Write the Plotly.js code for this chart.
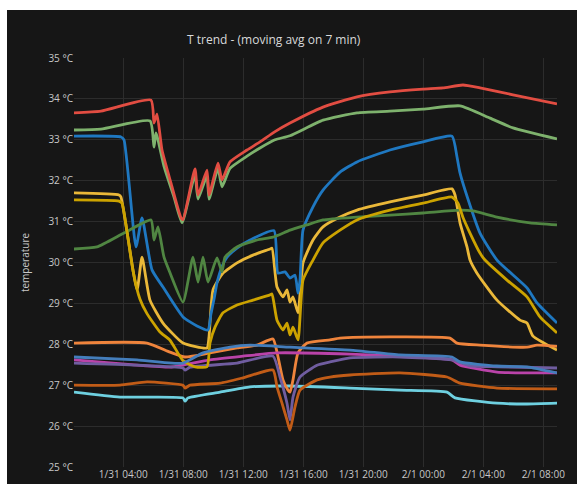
<!DOCTYPE html>
<html>
<head>
<meta charset="utf-8">
<script src="https://cdn.plot.ly/plotly-3.0.1.min.js"></script>
<style>
  html, body { margin: 0; padding: 0; background: #ffffff; width: 577px; height: 484px; overflow: hidden; }
  #chart { position: absolute; left: 7px; top: 10px; width: 570px; height: 474px; }
</style>
</head>
<body>
<div id="chart"></div>
<script>
// Times are "D HH:MM" where D=31 -> Jan 31, D=01 -> Feb 1
const redT = ["31 00:43","31 02:31","31 05:51","31 06:03","31 06:15","31 06:35","31 07:11","31 07:51","31 07:59","31 08:47","31 08:59","31 09:35","31 09:43","31 10:19","31 10:35","31 11:07","31 12:15","31 13:07","31 14:07","31 15:07","31 17:19","31 19:35","31 21:47","31 23:59","01 01:19","01 02:39","01 03:47","01 05:59","01 08:55"];
const redV = [33.66,33.70,33.97,33.41,33.63,32.75,31.94,31.09,31.05,32.29,31.65,32.26,31.65,32.43,32.02,32.46,32.75,32.95,33.20,33.41,33.80,34.05,34.17,34.24,34.27,34.34,34.27,34.10,33.88];

const greenT = ["31 00:43","31 02:31","31 05:47","31 06:03","31 06:11","31 06:43","31 07:23","31 07:55","31 08:47","31 08:59","31 09:35","31 09:43","31 10:19","31 10:35","31 11:07","31 12:15","31 13:07","31 14:07","31 15:07","31 17:19","31 19:35","31 21:47","31 23:59","01 02:27","01 04:27","01 05:59","01 08:55"];
const greenV = [33.24,33.26,33.46,32.82,33.17,32.35,31.60,30.97,32.15,31.55,32.13,31.55,32.30,31.85,32.30,32.60,32.80,33.00,33.10,33.48,33.66,33.70,33.75,33.83,33.53,33.29,33.02];

const blueT = ["31 00:43","31 03:51","31 04:03","31 04:51","31 05:15","31 05:55","31 06:39","31 07:59","31 08:55","31 09:39","31 09:51","31 10:03","31 10:15","31 10:35","31 10:55","31 11:35","31 12:27","31 14:03","31 14:19","31 14:47","31 15:07","31 15:27","31 15:39","31 15:47","31 15:59","31 16:39","31 17:19","31 18:27","31 19:35","31 21:47","31 23:59","01 01:55","01 02:15","01 02:27","01 03:07","01 03:47","01 04:55","01 06:55","01 07:35","01 08:55"];
const blueV = [33.09,33.07,33.00,30.38,31.09,29.82,29.40,28.67,28.45,28.35,28.75,29.10,29.50,29.90,30.13,30.35,30.55,30.78,29.74,29.77,29.62,29.69,29.25,29.57,30.79,31.36,31.77,32.21,32.46,32.75,32.95,33.09,32.58,32.19,31.40,30.72,30.06,29.38,29.01,28.52];

const yellowT = ["31 00:43","31 03:43","31 03:51","31 04:55","31 05:15","31 05:47","31 06:39","31 07:59","31 09:35","31 09:43","31 09:59","31 10:39","31 11:35","31 12:39","31 13:47","31 13:55","31 14:15","31 14:39","31 14:55","31 15:07","31 15:19","31 15:39","31 15:59","31 16:39","31 17:19","31 18:27","31 19:35","31 21:47","31 23:59","01 01:55","01 02:07","01 02:27","01 02:55","01 03:07","01 03:35","01 04:55","01 06:27","01 06:55","01 07:19","01 08:55"];
const yellowV = [31.70,31.65,31.60,29.33,30.13,29.08,28.52,28.03,27.91,28.18,29.33,29.74,29.99,30.18,30.33,30.35,29.40,29.16,29.33,29.03,29.16,28.77,29.99,30.55,30.87,31.11,31.28,31.48,31.65,31.80,31.65,30.97,30.38,30.06,29.74,29.08,28.59,28.52,28.20,27.86];

const goldT = ["31 00:43","31 03:43","31 03:55","31 04:19","31 04:39","31 05:07","31 05:35","31 06:27","31 07:07","31 07:59","31 08:47","31 09:35","31 09:47","31 10:07","31 10:39","31 11:35","31 12:39","31 13:47","31 13:55","31 14:15","31 14:39","31 14:55","31 15:07","31 15:19","31 15:39","31 15:59","31 16:39","31 17:19","31 18:27","31 19:35","31 21:47","31 23:59","01 01:55","01 02:19","01 02:39","01 03:07","01 03:47","01 04:07","01 05:35","01 06:55","01 07:47","01 08:55"];
const goldV = [31.53,31.50,31.45,30.60,29.80,29.10,28.75,28.30,28.10,27.60,27.45,27.45,28.03,28.42,28.77,28.96,29.08,29.21,29.23,28.59,28.35,28.52,28.23,28.42,28.11,29.57,30.06,30.48,30.79,31.04,31.28,31.45,31.60,31.45,31.10,30.72,30.23,30.06,29.57,29.16,28.67,28.28];

const dgreenT = ["31 00:43","31 02:15","31 04:03","31 05:51","31 06:03","31 06:19","31 06:43","31 07:07","31 07:59","31 08:39","31 08:59","31 09:19","31 09:39","31 10:15","31 10:35","31 10:47","31 11:35","31 12:55","31 13:59","31 15:07","31 16:15","31 17:19","31 19:35","31 21:47","31 23:59","01 02:27","01 03:19","01 04:55","01 07:07","01 08:55"];
const dgreenV = [30.33,30.38,30.72,31.04,30.55,30.87,30.13,29.75,29.03,30.13,29.52,30.13,29.52,30.11,29.77,30.13,30.38,30.55,30.62,30.79,30.92,31.04,31.11,31.16,31.21,31.28,31.26,31.11,30.97,30.92];

const orangeT = ["31 00:43","31 05:35","31 07:07","31 08:07","31 09:47","31 11:35","31 12:55","31 13:59","31 14:15","31 14:39","31 14:59","31 15:07","31 15:19","31 15:39","31 16:15","31 17:47","31 18:27","31 21:47","01 01:47","01 02:15","01 03:47","01 06:55","01 07:35","01 08:55"];
const orangeV = [28.03,28.03,27.81,27.69,27.79,27.91,27.98,28.13,27.81,27.13,26.88,26.83,27.13,27.79,28.03,28.11,28.15,28.18,28.15,28.03,27.98,27.93,27.98,27.95];

const blue2T = ["31 00:43","31 04:55","31 07:59","31 09:19","31 11:07","31 12:27","31 15:07","31 19:07","31 22:27","01 01:55","01 02:27","01 04:55","01 06:55","01 08:55"];
const blue2V = [27.69,27.62,27.54,27.79,27.93,27.98,27.93,27.86,27.74,27.69,27.57,27.47,27.45,27.30];

const purpleT = ["31 00:43","31 04:55","31 07:59","31 08:07","31 08:27","31 11:35","31 13:59","31 14:27","31 14:55","31 15:07","31 15:19","31 15:47","31 16:55","31 17:47","31 19:07","31 22:27","01 01:55","01 03:07","01 04:55","01 08:55"];
const purpleV = [27.54,27.49,27.42,27.37,27.44,27.54,27.71,27.20,26.56,26.15,26.71,27.20,27.49,27.57,27.67,27.69,27.62,27.47,27.45,27.42];

const magentaT = ["31 00:43","31 04:55","31 07:07","31 07:59","31 09:47","31 11:59","31 14:15","31 19:07","31 22:27","01 01:55","01 02:27","01 04:55","01 06:55","01 08:55"];
const magentaV = [27.62,27.49,27.44,27.49,27.62,27.71,27.79,27.76,27.71,27.62,27.49,27.32,27.30,27.30];

const dorangeT = ["31 00:43","31 03:47","31 05:35","31 07:59","31 08:07","31 08:27","31 10:27","31 11:59","31 13:59","31 14:15","31 14:35","31 14:55","31 15:07","31 15:27","31 15:47","31 16:55","31 17:47","31 19:07","31 22:27","01 01:35","01 02:27","01 04:55","01 08:55"];
const dorangeV = [27.00,27.00,27.08,27.00,26.93,27.00,27.05,27.18,27.37,26.96,26.56,26.15,25.90,26.47,26.88,27.13,27.20,27.25,27.30,27.20,27.05,26.93,26.91];

const cyanT = ["31 00:43","31 03:47","31 07:59","31 08:07","31 08:19","31 10:27","31 12:27","31 15:07","31 19:07","31 22:27","01 01:35","01 02:07","01 04:55","01 06:55","01 08:55"];
const cyanV = [26.83,26.71,26.69,26.61,26.69,26.83,26.96,26.98,26.93,26.88,26.83,26.69,26.56,26.54,26.56];

const yTicks = [25,26,27,28,29,30,31,32,33,34,35];

function toDate(s) {
  const parts = s.split(' ');
  return (parts[0] === '31' ? '2020-01-31 ' : '2020-02-01 ') + parts[1];
}

const series = [
  {name: 'green', t: greenT, v: greenV, color: '#7EB26D'},
  {name: 'yellow', t: yellowT, v: yellowV, color: '#EAB839'},
  {name: 'cyan', t: cyanT, v: cyanV, color: '#6ED0E0'},
  {name: 'orange', t: orangeT, v: orangeV, color: '#EF843C'},
  {name: 'red', t: redT, v: redV, color: '#E24D42'},
  {name: 'blue', t: blueT, v: blueV, color: '#1F78C1'},
  {name: 'magenta', t: magentaT, v: magentaV, color: '#BA43A9'},
  {name: 'purple', t: purpleT, v: purpleV, color: '#705DA0'},
  {name: 'darkgreen', t: dgreenT, v: dgreenV, color: '#508642'},
  {name: 'gold', t: goldT, v: goldV, color: '#CCA300'},
  {name: 'blue2', t: blue2T, v: blue2V, color: '#447EBC'},
  {name: 'darkorange', t: dorangeT, v: dorangeV, color: '#C15C17'}
];

const traces = series.map(s => ({
  type: 'scatter',
  mode: 'lines',
  name: s.name,
  x: s.t.map(toDate),
  y: s.v,
  line: {color: s.color, width: 2.8, shape: 'spline', smoothing: 0.5},
  hoverinfo: 'skip'
}));

const textColor = '#c8c8c8';
const layout = {
  width: 570,
  height: 474,
  paper_bgcolor: '#161616',
  plot_bgcolor: '#161616',
  showlegend: false,
  margin: {l: 67, r: 20, t: 48, b: 17, pad: 0},
  font: {family: '"Open Sans", sans-serif', color: textColor, size: 10},
  title: {
    text: 'T trend - (moving avg on 7 min)',
    font: {family: '"Open Sans", sans-serif', size: 12, color: '#d8d9da'},
    x: 0.468, xref: 'container', xanchor: 'center',
    y: 0.937, yref: 'container', yanchor: 'middle'
  },
  xaxis: {
    type: 'date',
    range: [toDate(redT[0]), toDate(redT[redT.length - 1])],
    tickformat: '%-m/%-d %H:%M',
    dtick: 4 * 3600 * 1000,
    tick0: '2020-01-31 00:00',
    showgrid: true,
    gridcolor: '#2c2c2c',
    gridwidth: 1,
    zeroline: false,
    showline: false,
    ticks: '',
    tickfont: {size: 10, color: textColor},
    fixedrange: true
  },
  yaxis: {
    range: [25, 35],
    tickvals: yTicks,
    ticktext: yTicks.map(v => v + ' °C'),
    showgrid: true,
    gridcolor: '#2c2c2c',
    gridwidth: 1,
    zeroline: false,
    showline: false,
    ticks: '',
    tickfont: {size: 10, color: textColor},
    title: {text: 'temperature', font: {size: 10, color: textColor}, standoff: 16},
    fixedrange: true
  }
};

Plotly.newPlot('chart', traces, layout, {displayModeBar: false, staticPlot: true});
</script>
</body>
</html>
